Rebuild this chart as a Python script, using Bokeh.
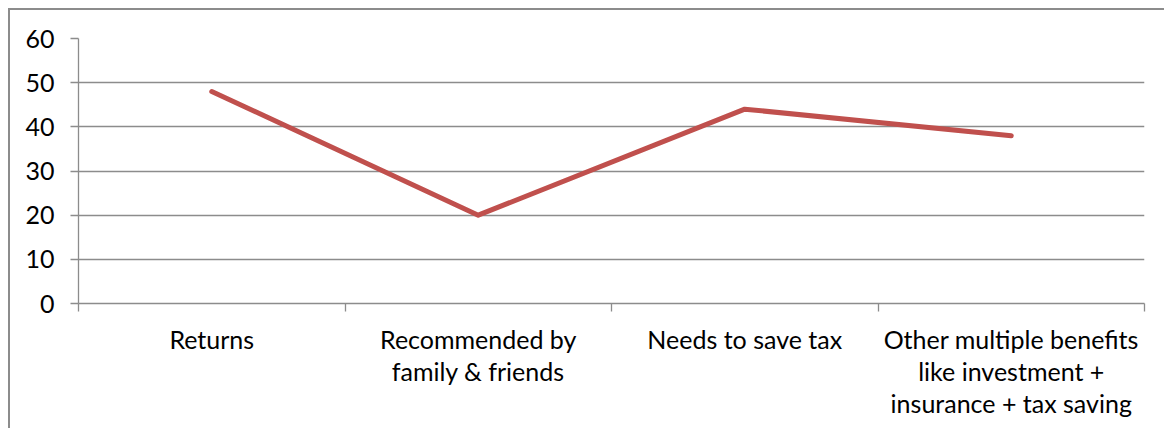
from bokeh.plotting import figure
from bokeh.models import Range1d, FixedTicker
from bokeh.embed import file_html
from bokeh.resources import INLINE

categories = ["Returns", "Recommended by\nfamily & friends", "Needs to save tax",
              "Other multiple benefits\nlike investment +\ninsurance + tax saving"]
values = [48, 20, 44, 38]
y_ticks = [0, 10, 20, 30, 40, 50, 60]

xpos = [i + 0.5 for i in range(len(categories))]
bounds = list(range(len(categories) + 1))

GRAY = "#8c8c8c"
FONT = "Lato"

p = figure(width=1156, height=420, output_backend="svg", toolbar_location=None,
           x_range=Range1d(0, len(categories)), y_range=Range1d(0, 60),
           min_border_left=68, min_border_right=22, min_border_top=28, min_border_bottom=127)
# outer chart border on the left and top (right/bottom lie outside the picture)
p.styles = {"margin-left": "10px", "margin-top": "10px",
            "box-shadow": f"-2px -2px 0 0 {GRAY}"}
p.outline_line_color = None
p.background_fill_color = "white"
p.border_fill_color = "white"

p.line(xpos, values, line_color="#C0504D", line_width=5, line_cap="round", line_join="round")

# x axis
xa = p.xaxis[0]
xa.ticker = FixedTicker(ticks=xpos, minor_ticks=bounds)
xa.major_label_overrides = {x: c for x, c in zip(xpos, categories)}
xa.major_tick_line_color = None
xa.minor_tick_out = 8
xa.minor_tick_in = 0
xa.minor_tick_line_color = GRAY
xa.minor_tick_line_width = 1.3
xa.axis_line_color = GRAY
xa.axis_line_width = 1.3
xa.major_label_text_font = FONT
xa.major_label_text_font_size = "25px"
xa.major_label_text_color = "black"
xa.major_label_standoff = 12
xa.major_label_text_line_height = 1.08

# y axis
ya = p.yaxis[0]
ya.ticker = FixedTicker(ticks=y_ticks)
ya.major_tick_out = 8
ya.major_tick_in = 0
ya.minor_tick_line_color = None
ya.major_tick_line_color = GRAY
ya.major_tick_line_width = 1.3
ya.axis_line_color = GRAY
ya.axis_line_width = 1.3
ya.major_label_text_font = FONT
ya.major_label_text_font_size = "25px"
ya.major_label_text_color = "black"
ya.major_label_standoff = 16

p.xgrid.grid_line_color = None
p.ygrid.grid_line_color = GRAY
p.ygrid.grid_line_width = 1.3
p.ygrid.ticker = FixedTicker(ticks=y_ticks)

open("out.html", "w").write(file_html(p, INLINE))
